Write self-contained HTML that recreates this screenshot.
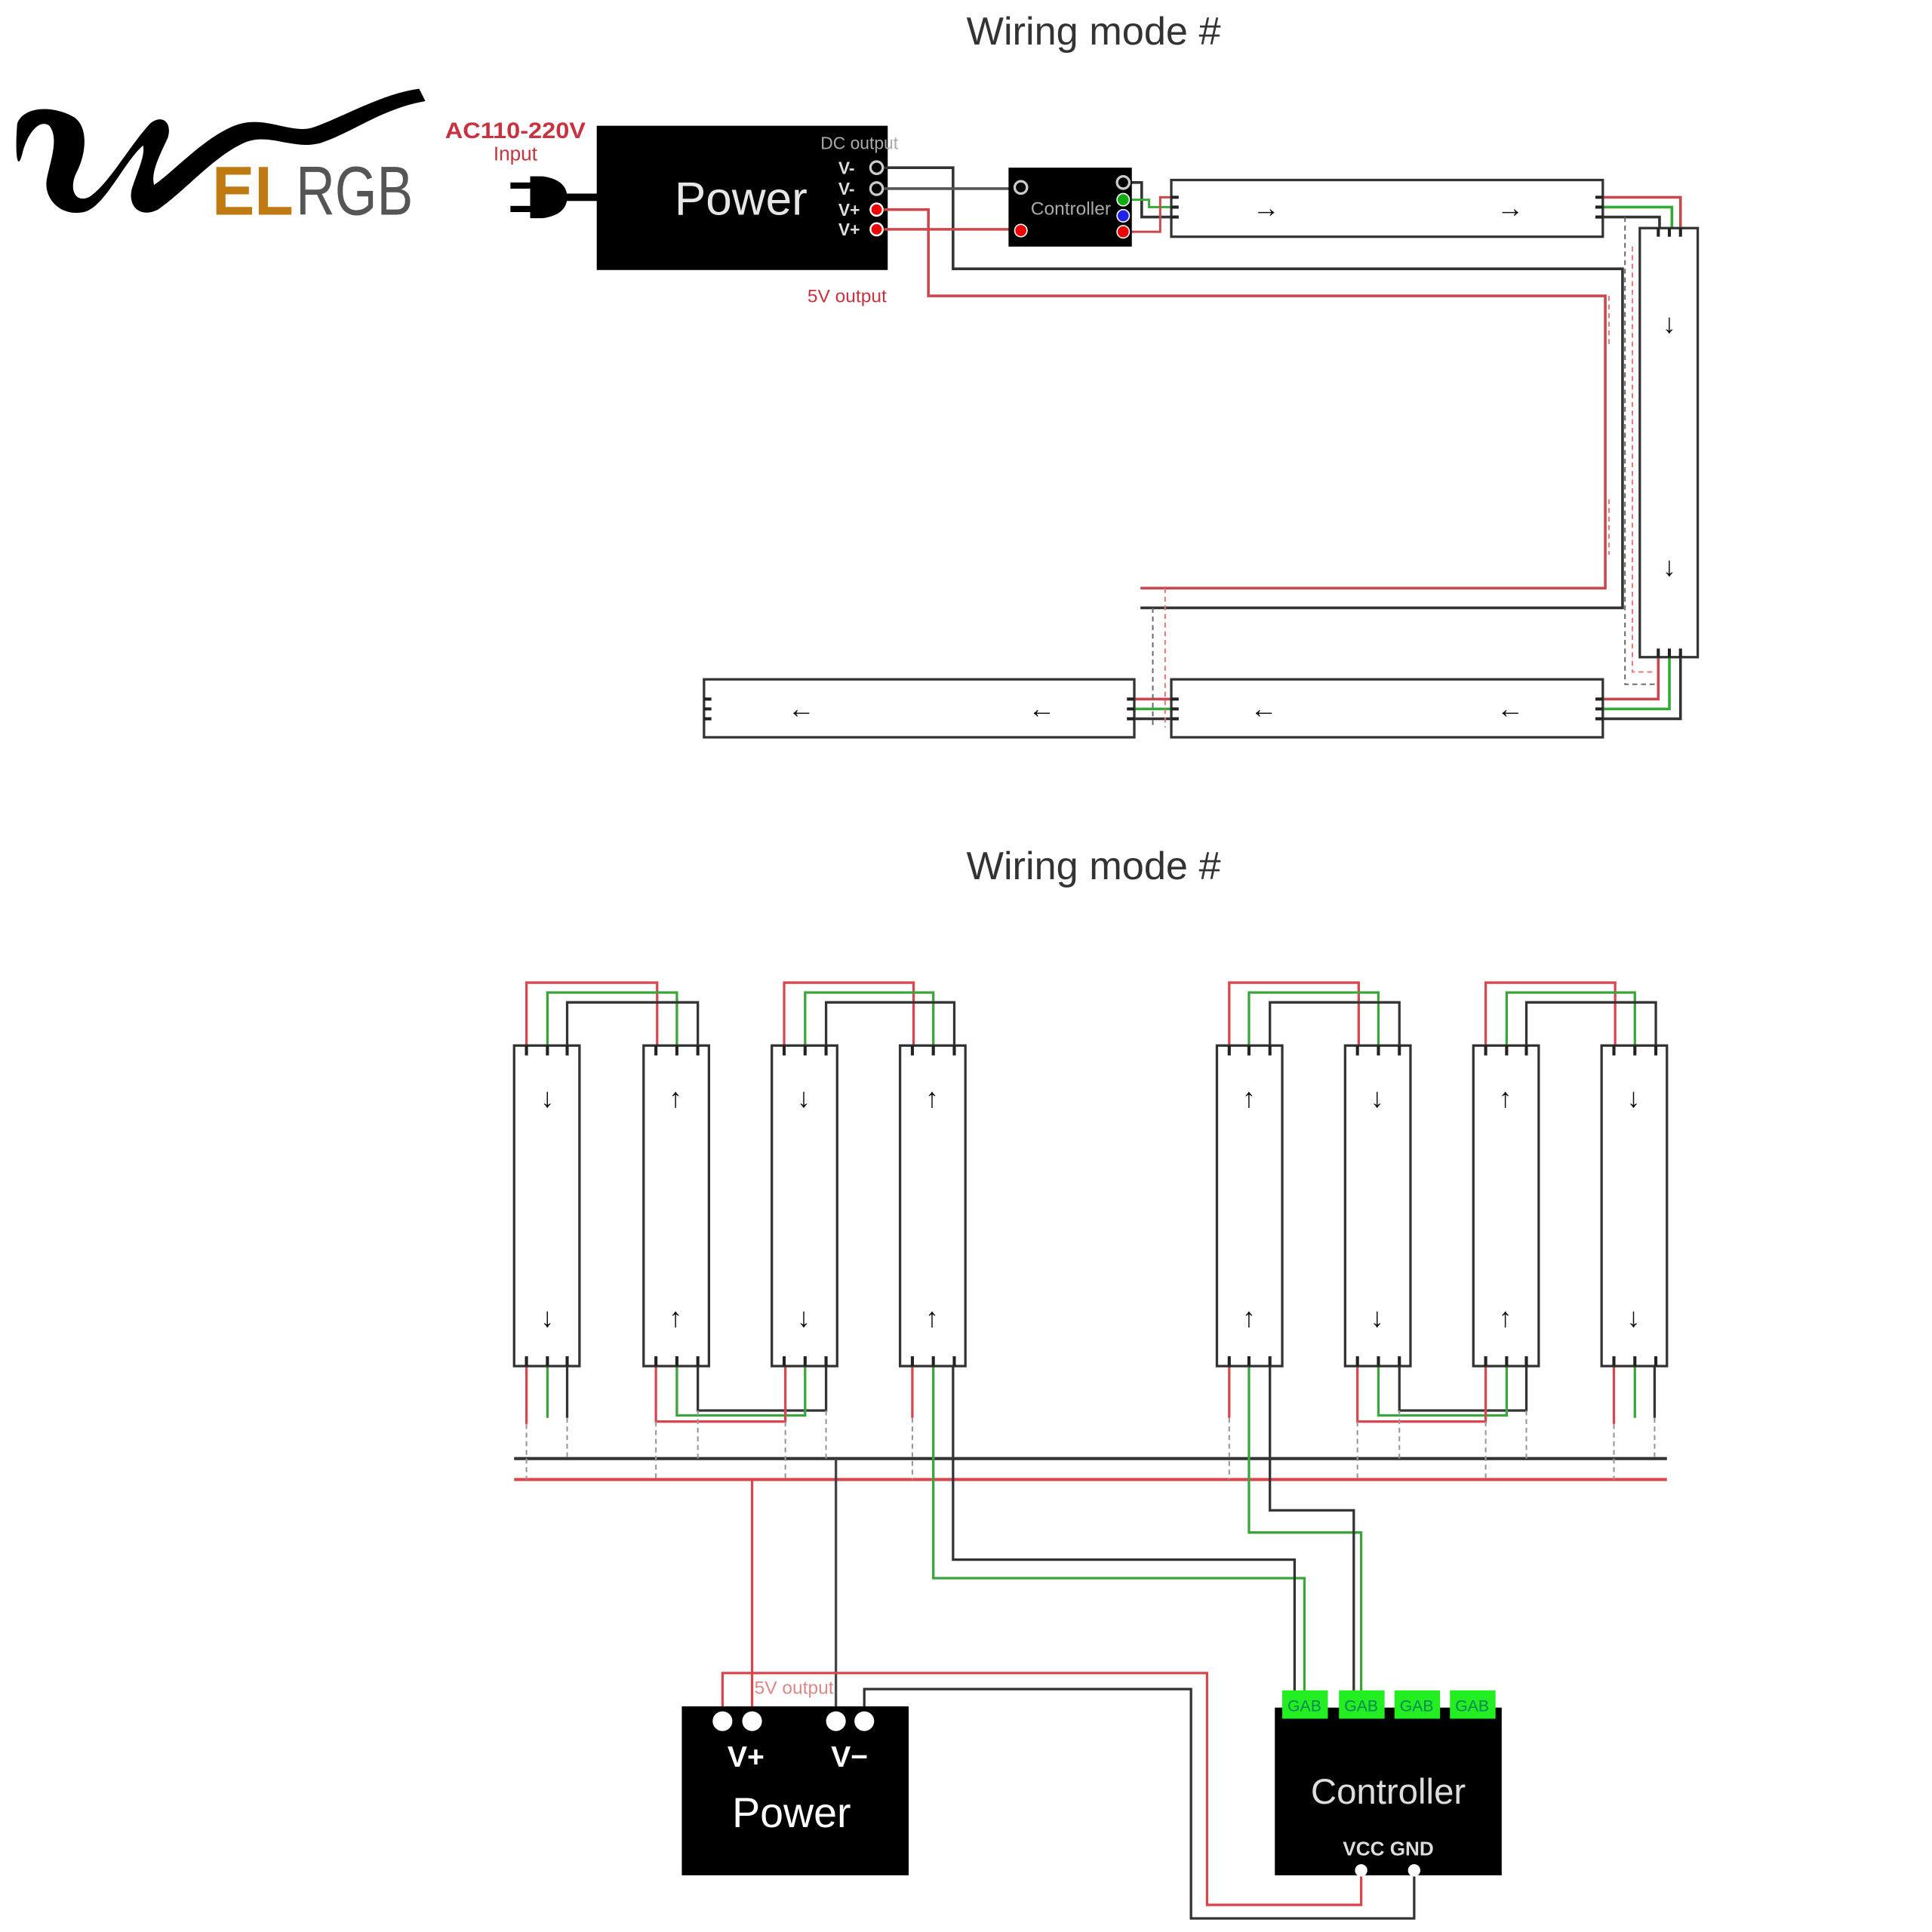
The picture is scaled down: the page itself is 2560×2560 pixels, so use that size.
<!DOCTYPE html>
<html><head><meta charset="utf-8"><style>
html,body{margin:0;padding:0;background:#fff;}
svg{display:block;}
text{font-family:"Liberation Sans",sans-serif;}
</style></head><body>
<svg width="2560" height="2560" viewBox="0 0 1567 1567" xmlns="http://www.w3.org/2000/svg">
<rect width="1567" height="1567" fill="#fff"/>
<!-- Titles -->
<text x="887" y="36" font-size="32" fill="#333" text-anchor="middle">Wiring mode #</text>
<text x="887" y="713" font-size="32" fill="#333" text-anchor="middle">Wiring mode #</text>

<!-- Logo -->
<path d="M14 100 C20 85 45 86 60 95 C72 103 70 125 62 140 C56 152 60 165 72 160 C88 150 105 118 122 100 C132 92 140 100 136 112 C130 125 122 140 125 150 C140 140 165 112 190 102 C215 92 236 110 255 103 C280 94 310 76 340 72 L345 82 C310 88 285 108 260 116 C238 122 220 108 200 115 C175 125 150 155 128 170 C112 178 102 165 108 150 C112 138 118 125 116 118 C100 132 85 168 68 172 C48 176 35 160 38 145 C41 130 48 112 40 102 C32 96 22 108 18 125 C14 140 12 125 14 100 Z" fill="#000"/>
<text x="172" y="174" font-size="56" font-weight="bold" fill="#c07a12" textLength="66" lengthAdjust="spacingAndGlyphs">EL</text>
<text x="240" y="174" font-size="56" fill="#555" textLength="95" lengthAdjust="spacingAndGlyphs">RGB</text>

<!-- AC input -->
<text x="418" y="112" font-size="18" font-weight="bold" fill="#c8323e" text-anchor="middle" textLength="114" lengthAdjust="spacingAndGlyphs">AC110-220V</text>
<text x="418" y="130" font-size="16" fill="#c8323e" text-anchor="middle">Input</text>
<!-- plug -->
<rect x="414" y="148" width="22" height="5" fill="#000"/>
<rect x="414" y="167" width="22" height="5" fill="#000"/>
<path d="M430 143 L440 143 C455 145 460 152 460 160 C460 168 455 175 440 177 L430 177 Z" fill="#000"/>
<rect x="455" y="157" width="30" height="6" fill="#000"/>

<!-- Power box top -->
<rect x="484" y="102" width="236" height="117" fill="#000"/>
<text x="601" y="174" font-size="38" fill="#e6e6e6" text-anchor="middle">Power</text>
<text x="697" y="121" font-size="14" fill="#aaa" text-anchor="middle">DC output</text>
<g font-size="14" fill="#ddd" font-weight="bold">
<text x="680" y="141">V-</text><text x="680" y="158">V-</text><text x="680" y="175">V+</text><text x="680" y="191">V+</text>
</g>
<circle cx="711" cy="136" r="5" fill="none" stroke="#ccc" stroke-width="2"/>
<circle cx="711" cy="153" r="5" fill="none" stroke="#ccc" stroke-width="2"/>
<circle cx="711" cy="170" r="5" fill="#e00" stroke="#fff" stroke-width="1.5"/>
<circle cx="711" cy="186" r="5" fill="#e00" stroke="#fff" stroke-width="1.5"/>
<text x="687" y="245" font-size="15" fill="#c8323e" text-anchor="middle">5V output</text>

<!-- top wires -->
<g fill="none" stroke-width="2.2">
<path d="M717 136 H773 V218 H1316 V493 H925" stroke="#333"/>
<path d="M717 153 H820" stroke="#555"/>
<path d="M717 170 H753 V240 H1302 V477 H925" stroke="#c8484e"/>
<path d="M717 186 H820" stroke="#c8484e"/>
<path d="M916 148 H926 V176 H950" stroke="#333"/>
<path d="M916 162 H932 V168 H950" stroke="#3a3" stroke-width="1.8"/>
<path d="M916 188 H941 V160 H950" stroke="#c8484e" stroke-width="1.8"/>
<path d="M1300 160 H1363 V185" stroke="#c8484e"/>
<path d="M1300 168 H1356 V185" stroke="#3a3"/>
<path d="M1300 176 H1346 V185" stroke="#333"/>
<path d="M1345 533 V567 H1300" stroke="#c8484e"/>
<path d="M1354 533 V575 H1300" stroke="#3a3"/>
<path d="M1363 533 V583 H1300" stroke="#333"/>
<path d="M920 567 H950" stroke="#c8484e"/>
<path d="M920 575 H950" stroke="#3a3"/>
<path d="M920 583 H950" stroke="#333"/>
</g>
<g fill="none" stroke-width="1.2" stroke-dasharray="4,3">
<path d="M935 493 V590" stroke="#666"/>
<path d="M945 477 V590" stroke="#d77"/>
<path d="M1318 176 V555 H1345" stroke="#666"/>
<path d="M1324 200 V545 H1340" stroke="#e77"/>
<path d="M1305 240 V280" stroke="#e77"/>
<path d="M1305 405 V450" stroke="#e77"/>
</g>

<!-- Controller top -->
<rect x="818" y="136" width="100" height="64" fill="#000"/>
<text x="836" y="174" font-size="15" fill="#aaa">Controller</text>
<circle cx="828" cy="152" r="5" fill="none" stroke="#ccc" stroke-width="2"/>
<circle cx="828" cy="187" r="5" fill="#e00" stroke="#fff" stroke-width="1"/>
<circle cx="911" cy="148" r="5" fill="none" stroke="#ccc" stroke-width="2"/>
<circle cx="911" cy="162" r="5" fill="#1a1" stroke="#fff" stroke-width="1"/>
<circle cx="911" cy="175" r="5" fill="#22e" stroke="#fff" stroke-width="1"/>
<circle cx="911" cy="188" r="5" fill="#e00" stroke="#fff" stroke-width="1"/>

<!-- Horizontal strips -->
<g fill="#fff" stroke="#333" stroke-width="2">
<rect x="950" y="146" width="350" height="46"/>
<rect x="1330" y="185" width="47" height="348"/>
<rect x="571" y="551" width="349" height="47"/>
<rect x="950" y="551" width="350" height="47"/>
</g>
<g stroke="#222" stroke-width="2.5">
<path d="M950 160h6M950 168h6M950 176h6M1294 160h6M1294 168h6M1294 176h6"/>
<path d="M1345 185v7M1354 185v7M1363 185v7M1345 533v-7M1354 533v-7M1363 533v-7"/>
<path d="M571 567h6M571 575h6M571 583h6M914 567h6M914 575h6M914 583h6"/>
<path d="M950 567h6M950 575h6M950 583h6M1294 567h6M1294 575h6M1294 583h6"/>
</g>
<g font-size="22" font-weight="bold" fill="#111" text-anchor="middle" font-family="DejaVu Sans">
<text x="1027" y="176">→</text><text x="1225" y="176">→</text>
<text x="1354" y="270">↓</text><text x="1354" y="467">↓</text>
<text x="650" y="582">←</text><text x="845" y="582">←</text>
<text x="1025" y="582">←</text><text x="1225" y="582">←</text>
</g>

<!-- ============ Bottom section ============ -->
<g fill="none" stroke-width="2">
<g stroke="#d9474e"><path d="M427 848V797H533V848"/><path d="M636 848V797H741V848"/><path d="M997 848V797H1102V848"/><path d="M1205 848V797H1310V848"/></g>
<g stroke="#3aa53a"><path d="M444 848V805H549V848"/><path d="M653 848V805H757V848"/><path d="M1013 848V805H1118V848"/><path d="M1222 848V805H1326V848"/></g>
<g stroke="#333"><path d="M460 848V813H566V848"/><path d="M670 848V813H774V848"/><path d="M1030 848V813H1135V848"/><path d="M1238 848V813H1343V848"/></g>
<path d="M566 1108V1144H670V1108" stroke="#333"/>
<path d="M549 1108V1148H653V1108" stroke="#3aa53a"/>
<path d="M532 1108V1153H637V1108" stroke="#d9474e"/>
<path d="M1135 1108V1144H1238V1108" stroke="#333"/>
<path d="M1118 1108V1148H1222V1108" stroke="#3aa53a"/>
<path d="M1101 1108V1153H1205V1108" stroke="#d9474e"/>
<path d="M427 1108V1155" stroke="#d9474e"/><path d="M444 1108V1150" stroke="#3aa53a"/><path d="M460 1108V1150" stroke="#333"/>
<path d="M740 1108V1150" stroke="#d9474e"/>
<path d="M997 1108V1150" stroke="#d9474e"/>
<path d="M1309 1108V1155" stroke="#d9474e"/><path d="M1326 1108V1150" stroke="#3aa53a"/><path d="M1342 1108V1150" stroke="#333"/>
<path d="M417 1183H1352" stroke="#333" stroke-width="2.5"/>
<path d="M417 1200H1352" stroke="#d9474e" stroke-width="2.5"/>
<path d="M757 1108V1280H1058V1372" stroke="#3aa53a"/>
<path d="M773 1108V1265H1050V1372" stroke="#333"/>
<path d="M1013 1108V1243H1104V1372" stroke="#3aa53a"/>
<path d="M1030 1108V1225H1098V1372" stroke="#333"/>
<path d="M610 1200V1385" stroke="#d9474e"/>
<path d="M678 1183V1385" stroke="#444"/>
<path d="M586 1385V1357H979V1545H1104V1515" stroke="#d9474e"/>
<path d="M701 1385V1370H966V1556H1147V1515" stroke="#333"/>
</g>
<g fill="none" stroke-width="1.3" stroke-dasharray="4,3">
<path d="M427 1155V1200M460 1150V1183M532 1153V1200M566 1144V1183M637 1153V1200M670 1144V1183M740 1150V1200M997 1150V1200M1101 1153V1200M1135 1144V1183M1205 1153V1200M1238 1144V1183M1309 1155V1200M1342 1150V1183" stroke="#999"/>
</g>

<g fill="#fff" stroke="#333" stroke-width="2">
<rect x="417" y="848" width="53" height="260"/><rect x="522" y="848" width="53" height="260"/>
<rect x="626" y="848" width="53" height="260"/><rect x="730" y="848" width="53" height="260"/>
<rect x="987" y="848" width="53" height="260"/><rect x="1091" y="848" width="53" height="260"/>
<rect x="1195" y="848" width="53" height="260"/><rect x="1299" y="848" width="53" height="260"/>
</g>
<g stroke="#222" stroke-width="2.5">
<path d="M427 848v8M444 848v8M460 848v8M427 1108v-8M444 1108v-8M460 1108v-8"/>
<path d="M532 848v8M549 848v8M566 848v8M532 1108v-8M549 1108v-8M566 1108v-8"/>
<path d="M636 848v8M653 848v8M670 848v8M636 1108v-8M653 1108v-8M670 1108v-8"/>
<path d="M740 848v8M757 848v8M774 848v8M740 1108v-8M757 1108v-8M774 1108v-8"/>
<path d="M997 848v8M1013 848v8M1030 848v8M997 1108v-8M1013 1108v-8M1030 1108v-8"/>
<path d="M1101 848v8M1118 848v8M1135 848v8M1101 1108v-8M1118 1108v-8M1135 1108v-8"/>
<path d="M1205 848v8M1222 848v8M1238 848v8M1205 1108v-8M1222 1108v-8M1238 1108v-8"/>
<path d="M1309 848v8M1326 848v8M1343 848v8M1309 1108v-8M1326 1108v-8M1343 1108v-8"/>
</g>
<g font-size="22" font-weight="bold" fill="#111" text-anchor="middle" font-family="DejaVu Sans">
<text x="444" y="898">↓</text><text x="444" y="1076">↓</text>
<text x="548" y="898">↑</text><text x="548" y="1076">↑</text>
<text x="652" y="898">↓</text><text x="652" y="1076">↓</text>
<text x="756" y="898">↑</text><text x="756" y="1076">↑</text>
<text x="1013" y="898">↑</text><text x="1013" y="1076">↑</text>
<text x="1117" y="898">↓</text><text x="1117" y="1076">↓</text>
<text x="1221" y="898">↑</text><text x="1221" y="1076">↑</text>
<text x="1325" y="898">↓</text><text x="1325" y="1076">↓</text>
</g>

<!-- Power bottom -->
<rect x="553" y="1384" width="184" height="137" fill="#000"/>
<text x="644" y="1374" font-size="15" fill="#d88" text-anchor="middle">5V output</text>
<g fill="#fff"><circle cx="586" cy="1396" r="8"/><circle cx="610" cy="1396" r="8"/><circle cx="678" cy="1396" r="8"/><circle cx="701" cy="1396" r="8"/></g>
<text x="605" y="1433" font-size="24" font-weight="bold" fill="#fff" text-anchor="middle">V+</text>
<text x="689" y="1433" font-size="24" font-weight="bold" fill="#fff" text-anchor="middle">V−</text>
<text x="642" y="1482" font-size="34" fill="#fff" text-anchor="middle">Power</text>

<!-- Controller bottom -->
<rect x="1034" y="1385" width="184" height="136" fill="#000"/>
<g fill="#22ee22">
<rect x="1040" y="1371" width="37" height="23"/><rect x="1086" y="1371" width="37" height="23"/>
<rect x="1131" y="1371" width="37" height="23"/><rect x="1176" y="1371" width="37" height="23"/>
</g>
<g font-size="13" fill="#085" text-anchor="middle">
<text x="1058" y="1388">GAB</text><text x="1104" y="1388">GAB</text><text x="1149" y="1388">GAB</text><text x="1194" y="1388">GAB</text>
</g>
<text x="1126" y="1463" font-size="29" fill="#ddd" text-anchor="middle">Controller</text>
<text x="1126" y="1505" font-size="16" font-weight="bold" fill="#ddd" text-anchor="middle">VCC GND</text>
<circle cx="1104" cy="1517" r="5" fill="#fff"/><circle cx="1147" cy="1517" r="5" fill="#fff"/>
</svg>
</body></html>
